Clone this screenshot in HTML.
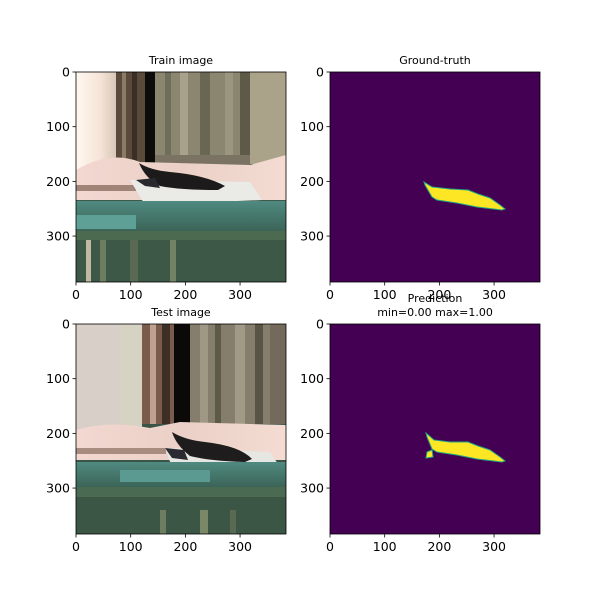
<!DOCTYPE html>
<html><head><meta charset="utf-8"><style>
body{margin:0;background:#fff}
svg text{font-family:"DejaVu Sans","Liberation Sans",sans-serif;fill:#000}
</style></head><body>
<svg id="fig" width="600" height="600" viewBox="0 0 600 600">
<defs>
<linearGradient id="sky1" x1="0" x2="1"><stop offset="0" stop-color="#fff8f0"/><stop offset="0.6" stop-color="#f6e4d8"/><stop offset="1" stop-color="#d8c8b8"/></linearGradient>
<linearGradient id="bed" x1="0" x2="1"><stop offset="0" stop-color="#f2d8d0"/><stop offset="0.5" stop-color="#ead0c6"/><stop offset="1" stop-color="#f4dcd2"/></linearGradient>
<linearGradient id="wat" x1="0" y1="0" x2="0" y2="1"><stop offset="0" stop-color="#4f8a80"/><stop offset="1" stop-color="#3c6458"/></linearGradient>
</defs>
<!-- Train image -->
<g>
<rect x="76" y="72" width="210" height="210" fill="#3e5a4a"/>
<rect x="76" y="72" width="40" height="110" fill="url(#sky1)"/>
<rect x="116" y="72" width="30" height="90" fill="#5a4a3c"/>
<rect x="122" y="72" width="4" height="90" fill="#8a7a66"/>
<rect x="132" y="72" width="5" height="90" fill="#3a2e26"/>
<rect x="145" y="72" width="10" height="110" fill="#0e0c0a"/>
<rect x="155" y="72" width="95" height="88" fill="#8a8670"/>
<rect x="165" y="72" width="6" height="88" fill="#6e6e5a"/>
<rect x="180" y="72" width="8" height="88" fill="#a8a28c"/>
<rect x="200" y="72" width="10" height="88" fill="#6a6654"/>
<rect x="225" y="72" width="8" height="88" fill="#9a9680"/>
<rect x="240" y="72" width="10" height="88" fill="#5e5a48"/>
<rect x="250" y="72" width="36" height="92" fill="#aba28a"/>
<rect x="155" y="155" width="95" height="20" fill="#7a7262"/>
<path d="M76 170 Q110 150 140 162 L250 165 L286 155 L286 200 L76 200 Z" fill="url(#bed)"/>
<rect x="76" y="185" width="60" height="6" fill="#a08478"/>
<path d="M130 180 L250 182 L262 200 L145 205 Z" fill="#eaeae6"/>
<path d="M139 163 Q150 170 170 172 Q205 175 225 186 L218 190 Q180 190 160 186 Q145 178 139 163 Z" fill="#1c1a1a"/>
<path d="M136 180 L155 178 L160 188 L145 186 Z" fill="#2a2a2e"/>
<rect x="76" y="201" width="210" height="30" fill="url(#wat)"/>
<rect x="76" y="215" width="60" height="14" fill="#5fa096"/>
<rect x="76" y="231" width="210" height="9" fill="#4c6a50"/>
<rect x="76" y="240" width="210" height="42" fill="#3e5848"/>
<rect x="100" y="240" width="6" height="42" fill="#6e7c60"/>
<rect x="130" y="240" width="8" height="42" fill="#5a6a52"/>
<rect x="170" y="240" width="6" height="42" fill="#728262"/>
<rect x="86" y="240" width="5" height="42" fill="#c0b8a0"/>
</g>
<!-- Test image -->
<g>
<rect x="76" y="324" width="210" height="210" fill="#3a5448"/>
<rect x="76" y="324" width="66" height="110" fill="#d8d0c8"/>
<rect x="120" y="324" width="22" height="110" fill="#d6d2c4"/>
<rect x="142" y="324" width="40" height="100" fill="#7a5c4c"/>
<rect x="150" y="324" width="6" height="100" fill="#c0a090"/>
<rect x="162" y="324" width="8" height="100" fill="#3e2e26"/>
<rect x="174" y="324" width="16" height="115" fill="#0c0a08"/>
<rect x="190" y="324" width="96" height="100" fill="#857e6c"/>
<rect x="200" y="324" width="8" height="100" fill="#9e9884"/>
<rect x="215" y="324" width="6" height="100" fill="#5e5a4a"/>
<rect x="235" y="324" width="10" height="100" fill="#a29a86"/>
<rect x="255" y="324" width="8" height="100" fill="#5a5446"/>
<rect x="270" y="324" width="16" height="100" fill="#746a5c"/>
<path d="M76 430 Q110 420 150 428 L180 422 L286 425 L286 460 L76 460 Z" fill="url(#bed)"/>
<rect x="76" y="448" width="90" height="6" fill="#a88c80"/>
<path d="M165 448 L270 452 L282 470 L176 478 Z" fill="#e6e6e2"/>
<path d="M172 432 Q185 440 205 442 Q240 446 252 459 L245 462 Q210 461 190 456 Q176 445 172 432 Z" fill="#1e1c1c"/>
<path d="M165 448 L184 450 L188 460 L172 458 Z" fill="#2a2a30"/>
<rect x="76" y="462" width="210" height="25" fill="url(#wat)"/>
<rect x="120" y="470" width="90" height="12" fill="#5a9a90"/>
<rect x="76" y="487" width="210" height="10" fill="#4a6a52"/>
<rect x="76" y="497" width="210" height="37" fill="#3c5646"/>
<rect x="160" y="510" width="6" height="24" fill="#6e7c60"/>
<rect x="200" y="510" width="8" height="24" fill="#7a8868"/>
<rect x="230" y="510" width="6" height="24" fill="#5a6a52"/>
</g>
<!-- Ground truth & prediction -->
<rect x="330" y="72" width="210" height="210" fill="#440154"/>
<rect x="330" y="324" width="210" height="210" fill="#440154"/>
<polygon fill="#fde725" stroke="#22a884" stroke-width="1" points="424,182 432,187 450,189 468,190 478,194 490,198 500,205 505,209 502,210 477,207 457,203 437,200 432,197 425,185"/>
<polygon fill="#fde725" stroke="#22a884" stroke-width="1" points="426,433 434,440 450,442 468,442 478,446 490,450 500,457 505,461 502,462 477,459 457,455 437,452 432,449 427,437"/>
<polygon fill="#fde725" stroke="#22a884" stroke-width="1" points="427,452 432,450 433,457 426,458"/>
<g id="axes"></g>
</svg>
<script>
const tickValues=[0,100,200,300];
const tickLabels=["0","100","200","300"];
const imgSize=384;
const panels=[
 {name:"train",x:76,y:72,title:["Train image"]},
 {name:"ground-truth",x:330,y:72,title:["Ground-truth"]},
 {name:"test",x:76,y:324,title:["Test image"]},
 {name:"prediction",x:330,y:324,title:["Prediction","min=0.00 max=1.00"]}
];
const NS="http://www.w3.org/2000/svg";
const g=document.getElementById("axes");
function mk(t,a){const e=document.createElementNS(NS,t);for(const k in a)e.setAttribute(k,a[k]);g.appendChild(e);return e;}
const W=210;
panels.forEach(p=>{
 const sx=v=>p.x+v*W/imgSize, sy=v=>p.y+v*W/imgSize;
 const fr=mk("rect",{x:p.x,y:p.y,width:W,height:W,fill:"none",stroke:"#000","stroke-width":0.8});
 
 
 tickValues.forEach((v,i)=>{
  mk("line",{x1:sx(v),x2:sx(v),y1:p.y+W,y2:p.y+W+3.5,stroke:"#000","stroke-width":0.8});
  const tx=mk("text",{x:sx(v),y:p.y+W+17,"font-size":12.5,"text-anchor":"middle"});
  tx.textContent=tickLabels[i];
  
  
  mk("line",{x1:p.x-3.5,x2:p.x,y1:sy(v),y2:sy(v),stroke:"#000","stroke-width":0.8});
  const ty=mk("text",{x:p.x-6,y:sy(v)+4.5,"font-size":12.5,"text-anchor":"end"});
  ty.textContent=tickLabels[i];
  
  
 });
 const n=p.title.length;
 p.title.forEach((t,i)=>{
  const tt=mk("text",{x:p.x+W/2,y:p.y-8-(n-1-i)*14,"font-size":11,"text-anchor":"middle"});
  tt.textContent=t;
  
  
 });
});
</script>
</body></html>
